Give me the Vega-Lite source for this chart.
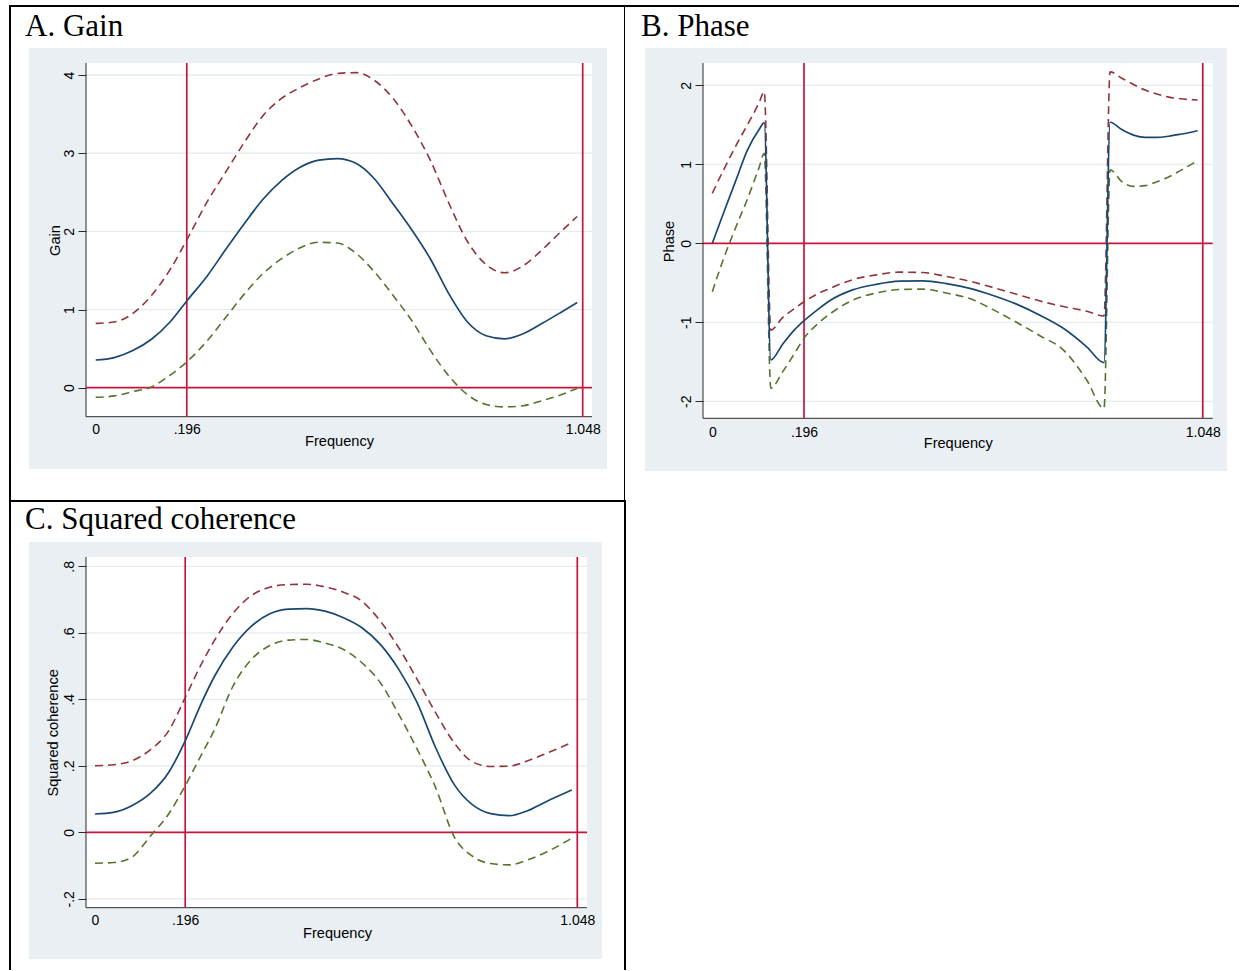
{
  "$schema": "https://vega.github.io/schema/vega-lite/v6.json",
  "background": "white",
  "padding": {"left": 9, "top": 5, "right": 0, "bottom": 0},
  "columns": 2,
  "spacing": 0,
  "bounds": "flush",
  "datasets": {
    "gain": [
      {"f": 0, "est": 0.354, "hi": 0.823, "lo": -0.123},
      {"f": 0.04, "est": 0.385, "hi": 0.84, "lo": -0.105},
      {"f": 0.08, "est": 0.475, "hi": 0.95, "lo": -0.05},
      {"f": 0.12, "est": 0.62, "hi": 1.18, "lo": 0.01},
      {"f": 0.16, "est": 0.84, "hi": 1.51, "lo": 0.16},
      {"f": 0.196, "est": 1.11, "hi": 1.89, "lo": 0.33},
      {"f": 0.24, "est": 1.43, "hi": 2.38, "lo": 0.6},
      {"f": 0.28, "est": 1.77, "hi": 2.76, "lo": 0.9},
      {"f": 0.32, "est": 2.1, "hi": 3.14, "lo": 1.2},
      {"f": 0.36, "est": 2.41, "hi": 3.48, "lo": 1.46},
      {"f": 0.4, "est": 2.65, "hi": 3.7, "lo": 1.65},
      {"f": 0.44, "est": 2.82, "hi": 3.84, "lo": 1.79},
      {"f": 0.48, "est": 2.91, "hi": 3.95, "lo": 1.86},
      {"f": 0.52, "est": 2.93, "hi": 4.02, "lo": 1.85},
      {"f": 0.56, "est": 2.87, "hi": 4.03, "lo": 1.72},
      {"f": 0.6, "est": 2.67, "hi": 3.93, "lo": 1.48},
      {"f": 0.64, "est": 2.35, "hi": 3.7, "lo": 1.18},
      {"f": 0.68, "est": 2.02, "hi": 3.35, "lo": 0.86},
      {"f": 0.72, "est": 1.65, "hi": 2.91, "lo": 0.48},
      {"f": 0.76, "est": 1.2, "hi": 2.36, "lo": 0.15},
      {"f": 0.8, "est": 0.84, "hi": 1.87, "lo": -0.09},
      {"f": 0.84, "est": 0.665, "hi": 1.575, "lo": -0.215},
      {"f": 0.88, "est": 0.625, "hi": 1.47, "lo": -0.245},
      {"f": 0.92, "est": 0.69, "hi": 1.56, "lo": -0.23},
      {"f": 0.96, "est": 0.82, "hi": 1.76, "lo": -0.167},
      {"f": 1.0, "est": 0.96, "hi": 1.99, "lo": -0.093},
      {"f": 1.036, "est": 1.09, "hi": 2.19, "lo": -0.008}
    ],
    "phase": [
      {"f": 0, "est": 0, "hi": 0.633, "lo": -0.613},
      {"f": 0.025, "est": 0.4, "hi": 0.94, "lo": -0.18},
      {"f": 0.05, "est": 0.79, "hi": 1.23, "lo": 0.2},
      {"f": 0.075, "est": 1.18, "hi": 1.5, "lo": 0.56},
      {"f": 0.1, "est": 1.44, "hi": 1.78, "lo": 0.96},
      {"f": 0.111, "est": 1.527, "hi": 1.92, "lo": 1.14},
      {"f": 0.125, "est": -1.477, "hi": -1.1, "lo": -1.835},
      {"f": 0.15, "est": -1.28, "hi": -0.94, "lo": -1.63},
      {"f": 0.175, "est": -1.1, "hi": -0.83, "lo": -1.4},
      {"f": 0.196, "est": -0.98, "hi": -0.74, "lo": -1.2},
      {"f": 0.225, "est": -0.84, "hi": -0.64, "lo": -1.02},
      {"f": 0.25, "est": -0.73, "hi": -0.575, "lo": -0.9},
      {"f": 0.3, "est": -0.59, "hi": -0.46, "lo": -0.72},
      {"f": 0.35, "est": -0.52, "hi": -0.4, "lo": -0.63},
      {"f": 0.4, "est": -0.48, "hi": -0.365, "lo": -0.585},
      {"f": 0.45, "est": -0.475, "hi": -0.37, "lo": -0.58},
      {"f": 0.5, "est": -0.51, "hi": -0.42, "lo": -0.63},
      {"f": 0.55, "est": -0.57, "hi": -0.48, "lo": -0.7},
      {"f": 0.6, "est": -0.66, "hi": -0.56, "lo": -0.84},
      {"f": 0.65, "est": -0.77, "hi": -0.645, "lo": -1.0},
      {"f": 0.7, "est": -0.91, "hi": -0.73, "lo": -1.17},
      {"f": 0.75, "est": -1.076, "hi": -0.8, "lo": -1.35},
      {"f": 0.8, "est": -1.31, "hi": -0.86, "lo": -1.73},
      {"f": 0.837, "est": -1.511, "hi": -0.92, "lo": -2.09},
      {"f": 0.85, "est": 1.532, "hi": 2.17, "lo": 0.93},
      {"f": 0.875, "est": 1.44, "hi": 2.09, "lo": 0.78},
      {"f": 0.9, "est": 1.37, "hi": 2.01, "lo": 0.72},
      {"f": 0.925, "est": 1.34, "hi": 1.94, "lo": 0.73},
      {"f": 0.95, "est": 1.34, "hi": 1.89, "lo": 0.78},
      {"f": 0.975, "est": 1.355, "hi": 1.85, "lo": 0.84},
      {"f": 1.0, "est": 1.38, "hi": 1.83, "lo": 0.92},
      {"f": 1.037, "est": 1.425, "hi": 1.814, "lo": 1.046}
    ],
    "coh": [
      {"f": 0, "est": 0.055, "hi": 0.2, "lo": -0.093},
      {"f": 0.04, "est": 0.06, "hi": 0.203, "lo": -0.091},
      {"f": 0.08, "est": 0.08, "hi": 0.215, "lo": -0.075},
      {"f": 0.12, "est": 0.117, "hi": 0.248, "lo": -0.012},
      {"f": 0.16, "est": 0.18, "hi": 0.305, "lo": 0.055},
      {"f": 0.196, "est": 0.275, "hi": 0.405, "lo": 0.14},
      {"f": 0.23, "est": 0.385, "hi": 0.503, "lo": 0.23},
      {"f": 0.26, "est": 0.47, "hi": 0.578, "lo": 0.31},
      {"f": 0.3, "est": 0.558, "hi": 0.659, "lo": 0.44},
      {"f": 0.34, "est": 0.62, "hi": 0.712, "lo": 0.52},
      {"f": 0.38, "est": 0.657, "hi": 0.737, "lo": 0.562},
      {"f": 0.42, "est": 0.671, "hi": 0.745, "lo": 0.578},
      {"f": 0.46, "est": 0.673, "hi": 0.746, "lo": 0.58},
      {"f": 0.5, "est": 0.665, "hi": 0.738, "lo": 0.569},
      {"f": 0.54, "est": 0.645, "hi": 0.722, "lo": 0.55},
      {"f": 0.58, "est": 0.615, "hi": 0.695, "lo": 0.51},
      {"f": 0.62, "est": 0.565, "hi": 0.635, "lo": 0.45},
      {"f": 0.66, "est": 0.49, "hi": 0.555, "lo": 0.355},
      {"f": 0.7, "est": 0.39, "hi": 0.46, "lo": 0.25},
      {"f": 0.74, "est": 0.255, "hi": 0.36, "lo": 0.135},
      {"f": 0.78, "est": 0.145, "hi": 0.27, "lo": -0.012},
      {"f": 0.82, "est": 0.083, "hi": 0.212, "lo": -0.072},
      {"f": 0.86, "est": 0.056, "hi": 0.198, "lo": -0.094},
      {"f": 0.9, "est": 0.05, "hi": 0.199, "lo": -0.098},
      {"f": 0.94, "est": 0.065, "hi": 0.215, "lo": -0.083},
      {"f": 0.98, "est": 0.092, "hi": 0.237, "lo": -0.06},
      {"f": 1.036, "est": 0.127, "hi": 0.27, "lo": -0.018}
    ]
  },
  "concat": [
    {
      "width": 615,
      "height": 495,
      "view": {"fill": "white", "stroke": "#000000", "strokeWidth": 2},
      "title": {"text": "A. Gain", "anchor": "start", "frame": "group", "offset": -34, "dx": 15, "dy": 27, "font": "Liberation Serif", "fontSize": 31, "fontWeight": "normal", "color": "#000000", "baseline": "alphabetic"},
      "layer": [
        {"data": {"values": [{}]}, "mark": {"type": "rect", "color": "#e9eff2"},
         "encoding": {
           "x": {"datum": -0.14353, "type": "quantitative", "scale": {"domain": [-0.18442, 1.13901], "nice": false, "zero": false}},
           "x2": {"datum": 1.10028},
           "y": {"datum": 4.34535, "type": "quantitative", "scale": {"domain": [-1.44931, 4.88264], "nice": false, "zero": false}},
           "y2": {"datum": -1.03998}}},
        {"data": {"values": [{}]}, "mark": {"type": "rect", "color": "#ffffff"},
         "encoding": {
           "x": {"datum": -0.02087, "type": "quantitative"},
           "x2": {"datum": 1.068},
           "y": {"datum": 4.15349, "type": "quantitative"},
           "y2": {"datum": -0.37096}}},
        {"data": {"values": [{"g": 1}, {"g": 2}, {"g": 3}, {"g": 4}]}, "mark": {"type": "rule", "color": "#e4ecef", "strokeWidth": 1.3},
         "encoding": {
           "y": {"field": "g", "type": "quantitative"},
           "x": {"datum": -0.02087, "type": "quantitative"},
           "x2": {"datum": 1.068}}},
        {"data": {"values": [{}]}, "mark": {"type": "rule", "color": "#2b2b2b", "strokeWidth": 1},
         "encoding": {
           "x": {"datum": -0.02087, "type": "quantitative"},
           "y": {"datum": -0.37096, "type": "quantitative"},
           "y2": {"datum": 4.15349}}},
        {"data": {"values": [{}]}, "mark": {"type": "rule", "color": "#2b2b2b", "strokeWidth": 1},
         "encoding": {
           "y": {"datum": -0.37096, "type": "quantitative"},
           "x": {"datum": -0.02087, "type": "quantitative"},
           "x2": {"datum": 1.068}}},
        {"data": {"values": [{"r": 0.196}, {"r": 1.048}]}, "mark": {"type": "rule", "color": "#c8143c", "strokeWidth": 1.7},
         "encoding": {
           "x": {"field": "r", "type": "quantitative"},
           "y": {"datum": -0.37096, "type": "quantitative"},
           "y2": {"datum": 4.15349}}},
        {"data": {"values": [{"r": 0}]}, "mark": {"type": "rule", "color": "#c8143c", "strokeWidth": 1.7},
         "encoding": {
           "y": {"field": "r", "type": "quantitative"},
           "x": {"datum": -0.02087, "type": "quantitative"},
           "x2": {"datum": 1.068}}},
        {"data": {"name": "gain"}, "mark": {"type": "line", "color": "#90353b", "strokeWidth": 1.6, "strokeDash": [8, 5], "interpolate": "monotone"},
         "encoding": {
           "x": {"field": "f", "type": "quantitative"},
           "y": {"field": "hi", "type": "quantitative"}}},
        {"data": {"name": "gain"}, "mark": {"type": "line", "color": "#55752f", "strokeWidth": 1.6, "strokeDash": [8, 5], "interpolate": "monotone"},
         "encoding": {
           "x": {"field": "f", "type": "quantitative"},
           "y": {"field": "lo", "type": "quantitative"}}},
        {"data": {"name": "gain"}, "mark": {"type": "line", "color": "#1a476f", "strokeWidth": 1.7, "interpolate": "monotone"},
         "encoding": {
           "x": {"field": "f", "type": "quantitative", "scale": {"domain": [-0.18442, 1.13901], "nice": false, "zero": false},
                 "axis": {"orient": "bottom", "zindex": 1, "offset": -84.3, "values": [0, 0.196, 1.048], "labelPadding": 16.6,
                          "labelExpr": "datum.value == 0 ? '0' : replace(format(datum.value, '.3f'), '0.', '.')",
                          "title": "Frequency", "titleX": 329, "titleY": 28.8}},
           "y": {"field": "est", "type": "quantitative", "scale": {"domain": [-1.44931, 4.88264], "nice": false, "zero": false},
                 "axis": {"orient": "left", "zindex": 1, "offset": -76, "values": [0, 1, 2, 3, 4], "format": "d",
                          "title": "Gain", "titleX": -27, "titleY": 234}}}}
      ]
    },
    {
      "width": 614,
      "height": 495,
      "view": {"fill": "white", "stroke": "#000000", "strokeWidth": 2, "strokeDash": [614, 4000]},
      "title": {"text": "B. Phase", "anchor": "start", "frame": "group", "offset": -34, "dx": 16, "dy": 27, "font": "Liberation Serif", "fontSize": 31, "fontWeight": "normal", "color": "#000000", "baseline": "alphabetic"},
      "layer": [
        {"data": {"values": [{}]}, "mark": {"type": "rect", "color": "#e9eff2"},
         "encoding": {
           "x": {"datum": -0.1438, "type": "quantitative", "scale": {"domain": [-0.18654, 1.12543], "nice": false, "zero": false}},
           "x2": {"datum": 1.09979},
           "y": {"datum": 2.47215, "type": "quantitative", "scale": {"domain": [-3.26203, 3.0038], "nice": false, "zero": false}},
           "y2": {"datum": -2.88228}}},
        {"data": {"values": [{}]}, "mark": {"type": "rect", "color": "#ffffff"},
         "encoding": {
           "x": {"datum": -0.01987, "type": "quantitative"},
           "x2": {"datum": 1.06923},
           "y": {"datum": 2.28228, "type": "quantitative"},
           "y2": {"datum": -2.21519}}},
        {"data": {"values": [{"g": -2}, {"g": -1}, {"g": 1}, {"g": 2}]}, "mark": {"type": "rule", "color": "#e4ecef", "strokeWidth": 1.3},
         "encoding": {
           "y": {"field": "g", "type": "quantitative"},
           "x": {"datum": -0.01987, "type": "quantitative"},
           "x2": {"datum": 1.06923}}},
        {"data": {"values": [{}]}, "mark": {"type": "rule", "color": "#2b2b2b", "strokeWidth": 1},
         "encoding": {
           "x": {"datum": -0.01987, "type": "quantitative"},
           "y": {"datum": -2.21519, "type": "quantitative"},
           "y2": {"datum": 2.28228}}},
        {"data": {"values": [{}]}, "mark": {"type": "rule", "color": "#2b2b2b", "strokeWidth": 1},
         "encoding": {
           "y": {"datum": -2.21519, "type": "quantitative"},
           "x": {"datum": -0.01987, "type": "quantitative"},
           "x2": {"datum": 1.06923}}},
        {"data": {"values": [{"r": 0.196}, {"r": 1.048}]}, "mark": {"type": "rule", "color": "#c8143c", "strokeWidth": 1.7},
         "encoding": {
           "x": {"field": "r", "type": "quantitative"},
           "y": {"datum": -2.21519, "type": "quantitative"},
           "y2": {"datum": 2.28228}}},
        {"data": {"values": [{"r": 0}]}, "mark": {"type": "rule", "color": "#c8143c", "strokeWidth": 1.7},
         "encoding": {
           "y": {"field": "r", "type": "quantitative"},
           "x": {"datum": -0.01987, "type": "quantitative"},
           "x2": {"datum": 1.06923}}},
        {"data": {"name": "phase"}, "mark": {"type": "line", "color": "#90353b", "strokeWidth": 1.6, "strokeDash": [8, 5], "interpolate": "monotone"},
         "encoding": {
           "x": {"field": "f", "type": "quantitative"},
           "y": {"field": "hi", "type": "quantitative"}}},
        {"data": {"name": "phase"}, "mark": {"type": "line", "color": "#55752f", "strokeWidth": 1.6, "strokeDash": [8, 5], "interpolate": "monotone"},
         "encoding": {
           "x": {"field": "f", "type": "quantitative"},
           "y": {"field": "lo", "type": "quantitative"}}},
        {"data": {"name": "phase"}, "mark": {"type": "line", "color": "#1a476f", "strokeWidth": 1.7, "interpolate": "monotone"},
         "encoding": {
           "x": {"field": "f", "type": "quantitative", "scale": {"domain": [-0.18654, 1.12543], "nice": false, "zero": false},
                 "axis": {"orient": "bottom", "zindex": 1, "offset": -82.7, "values": [0, 0.196, 1.048], "labelPadding": 18.2,
                          "labelExpr": "datum.value == 0 ? '0' : replace(format(datum.value, '.3f'), '0.', '.')",
                          "title": "Frequency", "titleX": 332.7, "titleY": 28.7}},
           "y": {"field": "est", "type": "quantitative", "scale": {"domain": [-3.26203, 3.0038], "nice": false, "zero": false},
                 "axis": {"orient": "left", "zindex": 1, "offset": -78, "values": [-2, -1, 0, 1, 2],
                          "labelExpr": "(datum.value < 0 ? '-' : '') + format(abs(datum.value), 'd')",
                          "title": "Phase", "titleX": -30, "titleY": 235}}}}
      ]
    },
    {
      "width": 615,
      "height": 469,
      "view": {"fill": "white", "stroke": "#000000", "strokeWidth": 2, "strokeDash": [1084, 615, 480]},
      "title": {"text": "C. Squared coherence", "anchor": "start", "frame": "group", "offset": -34, "dx": 15, "dy": 25, "font": "Liberation Serif", "fontSize": 31, "fontWeight": "normal", "color": "#000000", "baseline": "alphabetic"},
      "layer": [
        {"data": {"values": [{}]}, "mark": {"type": "rect", "color": "#e9eff2"},
         "encoding": {
           "x": {"datum": -0.14342, "type": "quantitative", "scale": {"domain": [-0.1847, 1.15167], "nice": false, "zero": false}},
           "x2": {"datum": 1.1017},
           "y": {"datum": 0.87308, "type": "quantitative", "scale": {"domain": [-0.41414, 0.99639], "nice": false, "zero": false}},
           "y2": {"datum": -0.38105}}},
        {"data": {"values": [{}]}, "mark": {"type": "rect", "color": "#ffffff"},
         "encoding": {
           "x": {"datum": -0.01956, "type": "quantitative"},
           "x2": {"datum": 1.0691},
           "y": {"datum": 0.82797, "type": "quantitative"},
           "y2": {"datum": -0.22677}}},
        {"data": {"values": [{"g": -0.2}, {"g": 0.2}, {"g": 0.4}, {"g": 0.6}, {"g": 0.8}]}, "mark": {"type": "rule", "color": "#e4ecef", "strokeWidth": 1.3},
         "encoding": {
           "y": {"field": "g", "type": "quantitative"},
           "x": {"datum": -0.01956, "type": "quantitative"},
           "x2": {"datum": 1.0691}}},
        {"data": {"values": [{}]}, "mark": {"type": "rule", "color": "#2b2b2b", "strokeWidth": 1},
         "encoding": {
           "x": {"datum": -0.01956, "type": "quantitative"},
           "y": {"datum": -0.22677, "type": "quantitative"},
           "y2": {"datum": 0.82797}}},
        {"data": {"values": [{}]}, "mark": {"type": "rule", "color": "#2b2b2b", "strokeWidth": 1},
         "encoding": {
           "y": {"datum": -0.22677, "type": "quantitative"},
           "x": {"datum": -0.01956, "type": "quantitative"},
           "x2": {"datum": 1.0691}}},
        {"data": {"values": [{"r": 0.196}, {"r": 1.048}]}, "mark": {"type": "rule", "color": "#c8143c", "strokeWidth": 1.7},
         "encoding": {
           "x": {"field": "r", "type": "quantitative"},
           "y": {"datum": -0.22677, "type": "quantitative"},
           "y2": {"datum": 0.82797}}},
        {"data": {"values": [{"r": 0}]}, "mark": {"type": "rule", "color": "#c8143c", "strokeWidth": 1.7},
         "encoding": {
           "y": {"field": "r", "type": "quantitative"},
           "x": {"datum": -0.01956, "type": "quantitative"},
           "x2": {"datum": 1.0691}}},
        {"data": {"name": "coh"}, "mark": {"type": "line", "color": "#90353b", "strokeWidth": 1.6, "strokeDash": [8, 5], "interpolate": "monotone"},
         "encoding": {
           "x": {"field": "f", "type": "quantitative"},
           "y": {"field": "hi", "type": "quantitative"}}},
        {"data": {"name": "coh"}, "mark": {"type": "line", "color": "#55752f", "strokeWidth": 1.6, "strokeDash": [8, 5], "interpolate": "monotone"},
         "encoding": {
           "x": {"field": "f", "type": "quantitative"},
           "y": {"field": "lo", "type": "quantitative"}}},
        {"data": {"name": "coh"}, "mark": {"type": "line", "color": "#1a476f", "strokeWidth": 1.7, "interpolate": "monotone"},
         "encoding": {
           "x": {"field": "f", "type": "quantitative", "scale": {"domain": [-0.1847, 1.15167], "nice": false, "zero": false},
                 "axis": {"orient": "bottom", "zindex": 1, "offset": -62.3, "values": [0, 0.196, 1.048], "labelPadding": 16.4,
                          "labelExpr": "datum.value == 0 ? '0' : replace(format(datum.value, '.3f'), '0.', '.')",
                          "title": "Frequency", "titleX": 327, "titleY": 29.8}},
           "y": {"field": "est", "type": "quantitative", "scale": {"domain": [-0.41414, 0.99639], "nice": false, "zero": false},
                 "axis": {"orient": "left", "zindex": 1, "offset": -76, "values": [-0.2, 0, 0.2, 0.4, 0.6, 0.8],
                          "labelExpr": "datum.value == 0 ? '0' : (datum.value < 0 ? '-' : '') + replace(format(abs(datum.value), '.1f'), '0.', '.')",
                          "title": "Squared coherence", "titleX": -29, "titleY": 231.3}}}}
      ]
    }
  ],
  "config": {
    "font": "Liberation Sans",
    "axis": {
      "labelFont": "Liberation Sans", "labelFontSize": 14, "labelColor": "#000000",
      "titleFont": "Liberation Sans", "titleFontSize": 14.6, "titleFontWeight": "normal", "titleColor": "#000000",
      "domain": false, "grid": false, "tickColor": "#2b2b2b", "tickWidth": 1,
      "labelOverlap": false, "labelFlush": false, "labelLimit": 500
    },
    "axisX": {"tickSize": 0, "labelBaseline": "alphabetic", "labelAlign": "center", "titleBaseline": "alphabetic", "titleAlign": "center", "titleAngle": 0},
    "axisY": {"tickSize": 8, "labelAngle": -90, "labelAlign": "center", "labelBaseline": "alphabetic", "labelPadding": 5, "titleAngle": -90, "titleBaseline": "alphabetic", "titleAlign": "center"}
  }
}
